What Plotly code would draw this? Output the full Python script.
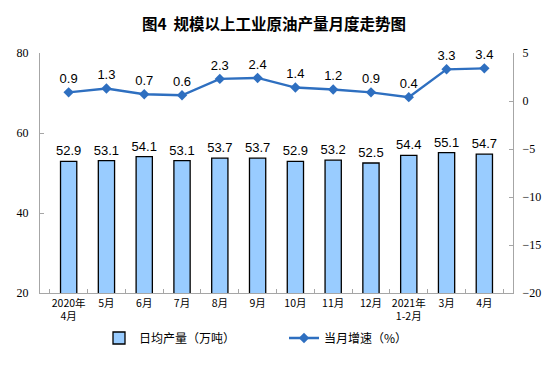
import plotly.graph_objects as go

categories = ["2020年<br>4月", "5月", "6月", "7月", "8月", "9月", "10月", "11月", "12月", "2021年<br>1-2月", "3月", "4月"]
daily_output = [52.9, 53.1, 54.1, 53.1, 53.7, 53.7, 52.9, 53.2, 52.5, 54.4, 55.1, 54.7]
monthly_growth = [0.9, 1.3, 0.7, 0.6, 2.3, 2.4, 1.4, 1.2, 0.9, 0.4, 3.3, 3.4]
left_ticks = [20, 40, 60, 80]
right_ticks = [-20, -15, -10, -5, 0, 5]

CJK = "Noto Sans CJK SC"
SERIF = "Liberation Serif"

fig = go.Figure()
fig.add_trace(go.Bar(
    x=categories, y=daily_output, name="日均产量（万吨）",
    marker=dict(color="#99CCFF", line=dict(color="#000000", width=1.3)),
    width=0.43,
    text=[f"{v:.1f}" for v in daily_output], textposition="outside",
    constraintext="none",
    textfont=dict(family="Liberation Sans", size=13, color="#000000"),
    cliponaxis=False,
))
fig.add_trace(go.Scatter(
    x=categories, y=monthly_growth, name="当月增速（%）", yaxis="y2",
    mode="lines+markers+text",
    line=dict(color="#2E6FC0", width=2.4),
    marker=dict(symbol="diamond", size=8, color="#2E6FC0"),
    text=[f"{v:.1f}" for v in monthly_growth], textposition="top center",
    textfont=dict(family="Liberation Sans", size=13, color="#000000"),
    cliponaxis=False,
))

fig.update_layout(
    width=554, height=369,
    margin=dict(l=40, r=41, t=53, b=76),
    paper_bgcolor="white", plot_bgcolor="white",
    title=dict(text="<b>图4  规模以上工业原油产量月度走势图</b>", x=274 / 554, xanchor="center",
               y=1 - 25/369, yanchor="middle",
               font=dict(family=CJK, size=15.5, color="#000000")),
    xaxis=dict(type="category", showline=True, linecolor="#A6A6A6", linewidth=1,
               ticks="inside", ticklen=4, tickcolor="#A6A6A6", tickson="boundaries",
               tickangle=0,
               tickfont=dict(family=CJK, size=10.5, color="#000000"), showgrid=False),
    yaxis=dict(range=[20, 80], tickvals=left_ticks, showline=True, linecolor="#A6A6A6",
               ticks="inside", ticklen=4, tickcolor="#A6A6A6", showgrid=False, zeroline=False,
               ticklabelstandoff=8,
               tickfont=dict(family=SERIF, size=12, color="#000000")),
    yaxis2=dict(range=[-20, 5], tickvals=right_ticks, overlaying="y", side="right",
                showline=True, linecolor="#A6A6A6", ticks="inside", ticklen=4, tickcolor="#A6A6A6",
                showgrid=False, zeroline=False, ticklabelstandoff=6,
                tickfont=dict(family=SERIF, size=12, color="#000000")),
    legend=dict(orientation="h", x=(99 - 40) / 473, xanchor="left", y=-0.1875, yanchor="middle",
                font=dict(family=CJK, size=12, color="#000000"), itemwidth=30,
                entrywidth=140, traceorder="normal"),
    showlegend=True,
)

fig.write_html("out.html", config={"displayModeBar": False},
               post_script="document.body.style.margin='0';")
